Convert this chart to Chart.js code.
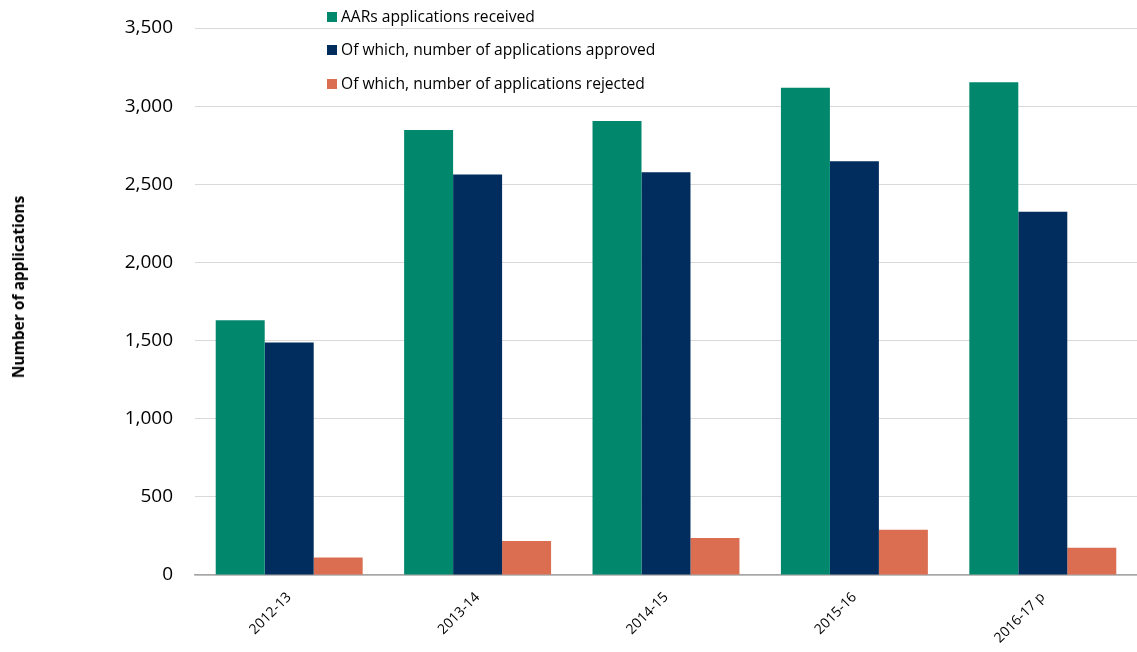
<!DOCTYPE html>
<html>
<head>
<meta charset="utf-8">
<script src="https://cdn.jsdelivr.net/npm/chart.js@4/dist/chart.umd.min.js"></script>
<style>
  html, body { margin: 0; padding: 0; background: #fff; }
  #wrap { position: relative; width: 1137px; height: 652px; }
  #legend { position: absolute; left: 327px; top: 0; font-family: "Open Sans", sans-serif; font-size: 15.6px; color: #000; }
  .li { position: absolute; white-space: nowrap; height: 20px; line-height: 20px; left: 0; }
  .sw { display: inline-block; width: 10px; height: 10px; margin-right: 4px; }
  #ytitle { position: absolute; left: 18px; top: 287px; transform: translate(-50%, -50%) rotate(-90deg);
            font-family: "Open Sans", sans-serif; font-weight: bold; font-size: 15.5px; color: #000; white-space: nowrap; }
</style>
</head>
<body>
<div id="wrap">
  <canvas id="c" width="1137" height="652"></canvas>
  <div id="legend"></div>
  <div id="ytitle">Number of applications</div>
</div>
<script>
const categories = ["2012-13", "2013-14", "2014-15", "2015-16", "2016-17 p"];
const seriesNames = ["AARs applications received", "Of which, number of applications approved", "Of which, number of applications rejected"];
const received = [1630, 2848, 2905, 3117, 3153];
const approved = [1487, 2562, 2577, 2648, 2325];
const rejected = [112, 218, 237, 290, 174];
const colors = ["#00876C", "#002D5E", "#DB6E51"];
const yTicks = [0, 500, 1000, 1500, 2000, 2500, 3000, 3500];

const FONT = "'Open Sans', sans-serif";
const series = [received, approved, rejected];

const legend = document.getElementById('legend');
const legendTops = [6, 39, 73];
seriesNames.forEach((n, i) => {
  const d = document.createElement('div');
  d.className = 'li';
  d.style.top = legendTops[i] + 'px';
  d.innerHTML = '<span class="sw" style="background:' + colors[i] + '"></span>' + n;
  legend.appendChild(d);
});

new Chart(document.getElementById('c'), {
  type: 'bar',
  data: {
    labels: categories,
    datasets: series.map((s, i) => ({
      label: seriesNames[i],
      data: s,
      backgroundColor: colors[i],
      borderWidth: 0,
      categoryPercentage: 0.78,
      barPercentage: 1.0
    }))
  },
  options: {
    responsive: false,
    animation: false,
    devicePixelRatio: 1,
    layout: { padding: { top: 28, right: 0, left: 0, bottom: 0 } },
    plugins: { legend: { display: false }, tooltip: { enabled: false } },
    scales: {
      x: {
        grid: { display: false, drawTicks: false },
        border: { display: true, color: '#a6a6a6', width: 1.5 },
        ticks: {
          color: '#000',
          font: { family: FONT, size: 14 },
          minRotation: 45, maxRotation: 45,
          padding: 14,
          autoSkip: false
        },
        afterFit: s => { s.height = 77; s.paddingLeft = 0; s.paddingRight = 0; }
      },
      y: {
        min: 0, max: 3500,
        afterBuildTicks: s => { s.ticks = yTicks.map(v => ({ value: v })); },
        grid: { color: '#d9d9d9', drawTicks: false, lineWidth: 1 },
        border: { display: false },
        ticks: {
          color: '#000',
          font: { family: FONT, size: 19 },
          padding: 22,
          callback: v => v.toLocaleString('en-US')
        },
        afterFit: s => { s.width = 195; s.paddingTop = 0; s.paddingBottom = 0; }
      }
    }
  }
});
</script>
</body>
</html>
